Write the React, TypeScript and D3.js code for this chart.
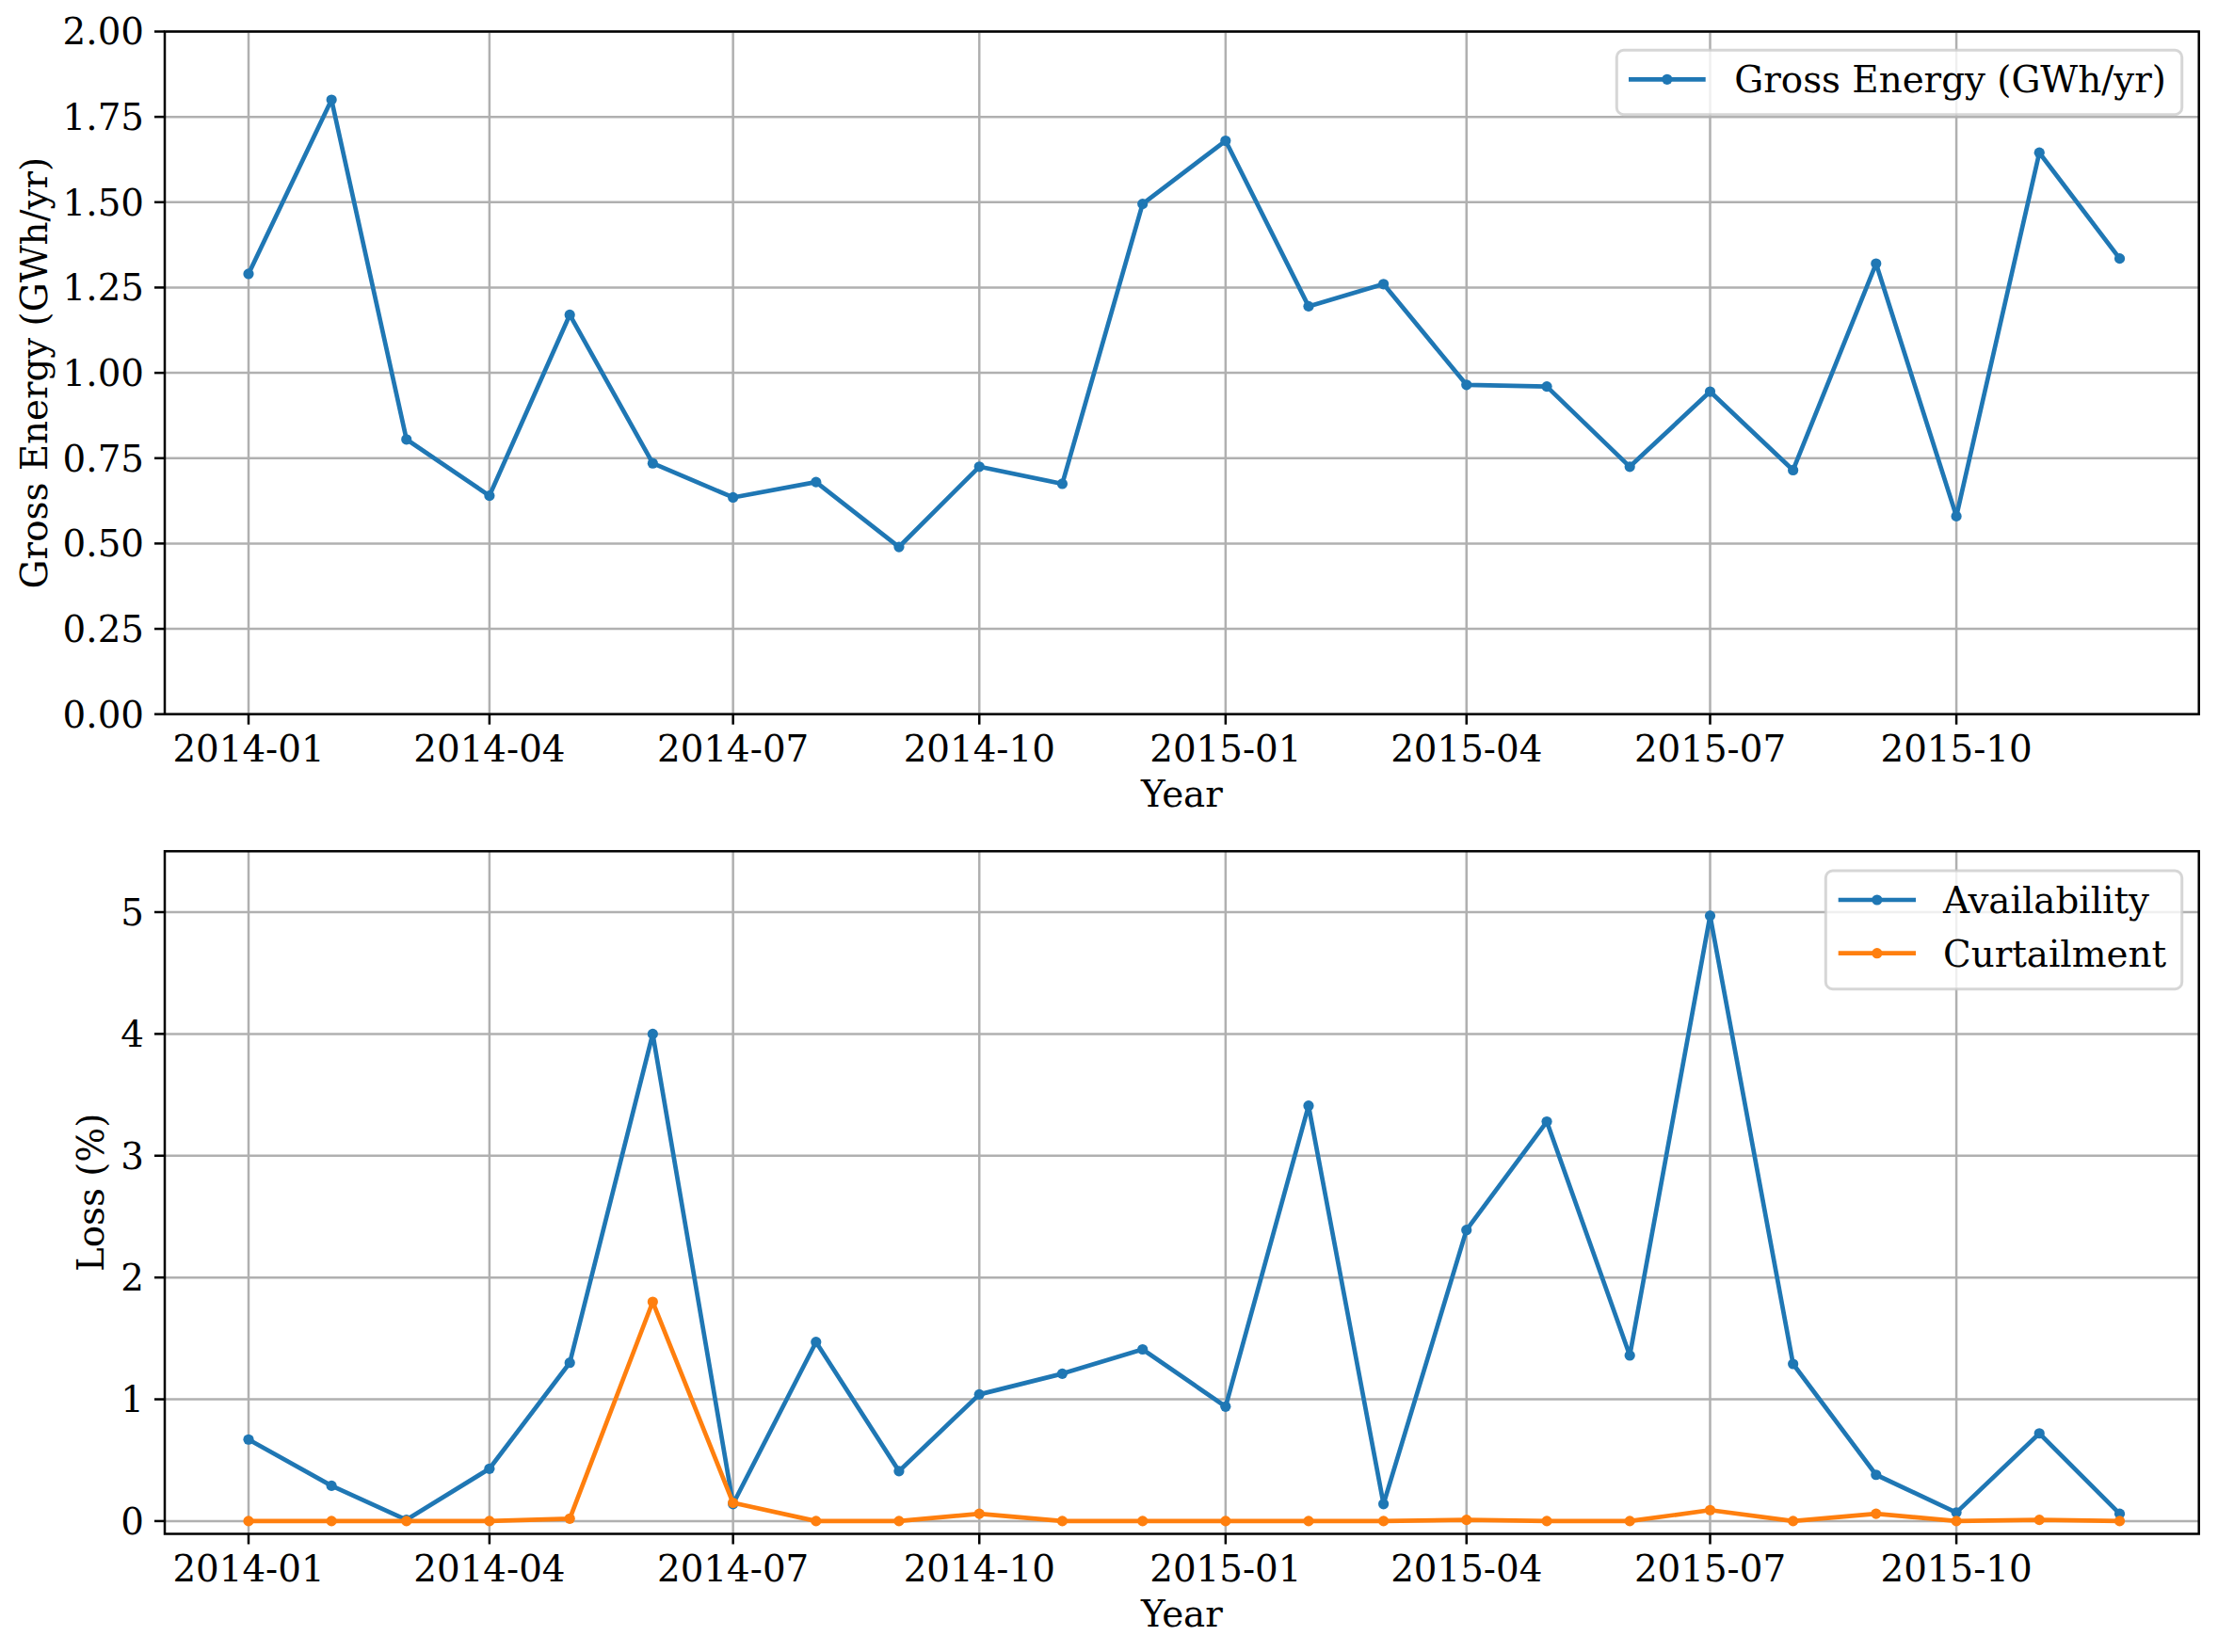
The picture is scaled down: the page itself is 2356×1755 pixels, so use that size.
import React from "react";
import * as d3 from "d3";

const months: string[] = [
  "2014-01", "2014-02", "2014-03", "2014-04", "2014-05", "2014-06",
  "2014-07", "2014-08", "2014-09", "2014-10", "2014-11", "2014-12",
  "2015-01", "2015-02", "2015-03", "2015-04", "2015-05", "2015-06",
  "2015-07", "2015-08", "2015-09", "2015-10", "2015-11", "2015-12",
];

const grossEnergy: number[] = [
  1.29, 1.80, 0.805, 0.64, 1.17, 0.735, 0.635, 0.68, 0.49, 0.725, 0.675, 1.495,
  1.68, 1.195, 1.26, 0.965, 0.96, 0.725, 0.945, 0.715, 1.32, 0.58, 1.645, 1.335,
];

const availability: number[] = [
  0.67, 0.29, 0.01, 0.43, 1.30, 4.00, 0.14, 1.47, 0.41, 1.04, 1.21, 1.41,
  0.94, 3.41, 0.14, 2.39, 3.28, 1.36, 4.97, 1.29, 0.38, 0.07, 0.72, 0.06,
];

const curtailment: number[] = [
  0, 0, 0, 0, 0.02, 1.80, 0.15, 0, 0, 0.06, 0, 0,
  0, 0, 0, 0.01, 0, 0, 0.09, 0, 0.06, 0, 0.01, 0,
];

const xTickLabels: string[] = [
  "2014-01", "2014-04", "2014-07", "2014-10", "2015-01", "2015-04", "2015-07", "2015-10",
];
const topYTicks: number[] = [0, 0.25, 0.5, 0.75, 1.0, 1.25, 1.5, 1.75, 2.0];
const bottomYTicks: number[] = [0, 1, 2, 3, 4, 5];

const W = 2356;
const H = 1755;
const FONT = "DejaVu Serif";
const FS = 38.8;
const BLUE = "#1f77b4";
const ORANGE = "#ff7f0e";
const GRID = "#b0b0b0";
const LW = 4.7;
const MR = 5.6;
const SPINE = 2.5;
const TICK = 11;

const parse = d3.timeParse("%Y-%m");
const dates = months.map((m) => parse(m) as Date);
const DAY = 86400000;
const xStart = new Date(dates[0].getTime() - 31.3 * DAY);
const xEnd = new Date(dates[dates.length - 1].getTime() + 29.6 * DAY);

const LEFT = 175;
const RIGHT = 2335.7;

const x = d3.scaleTime().domain([xStart, xEnd]).range([LEFT, RIGHT]);

type Series = { name: string; values: number[]; color: string };

function Panel(props: {
  top: number;
  bottom: number;
  yDomain: [number, number];
  yTicks: number[];
  yFormat: (v: number) => string;
  yLabel: string;
  yLabelX: number;
  series: Series[];
  legend: { left: number; top: number; right: number; bottom: number; handleX1: number; handleX2: number; textX: number; rowY: number[] };
}) {
  const { top, bottom, yDomain, yTicks, yFormat, yLabel, yLabelX, series, legend } = props;
  const y = d3.scaleLinear().domain(yDomain).range([bottom, top]);
  const xTicks = xTickLabels.map((t) => parse(t) as Date);
  const line = d3
    .line<number>()
    .x((_, i) => x(dates[i]))
    .y((v) => y(v));
  const fmtX = d3.timeFormat("%Y-%m");
  return (
    <g>
      {xTicks.map((t, i) => (
        <line key={"gx" + i} x1={x(t)} x2={x(t)} y1={top} y2={bottom} stroke={GRID} strokeWidth={2.5} />
      ))}
      {yTicks.map((v, i) => (
        <line key={"gy" + i} x1={LEFT} x2={RIGHT} y1={y(v)} y2={y(v)} stroke={GRID} strokeWidth={2.5} />
      ))}
      {series.map((s) => (
        <g key={s.name}>
          <path d={line(s.values) || ""} fill="none" stroke={s.color} strokeWidth={LW} strokeLinejoin="round" />
          {s.values.map((v, i) => (
            <circle key={i} cx={x(dates[i])} cy={y(v)} r={MR} fill={s.color} />
          ))}
        </g>
      ))}
      <rect x={LEFT} y={top} width={RIGHT - LEFT} height={bottom - top} fill="none" stroke="#000" strokeWidth={SPINE} />
      {xTicks.map((t, i) => (
        <g key={"xt" + i}>
          <line x1={x(t)} x2={x(t)} y1={bottom} y2={bottom + TICK} stroke="#000" strokeWidth={SPINE} />
          <text x={x(t)} y={bottom + 50} textAnchor="middle" fontFamily={FONT} fontSize={FS} fill="#000">
            {fmtX(t)}
          </text>
        </g>
      ))}
      {yTicks.map((v, i) => (
        <g key={"yt" + i}>
          <line x1={LEFT - TICK} x2={LEFT} y1={y(v)} y2={y(v)} stroke="#000" strokeWidth={SPINE} />
          <text x={LEFT - 22} y={y(v)} dy="0.36em" textAnchor="end" fontFamily={FONT} fontSize={FS} fill="#000">
            {yFormat(v)}
          </text>
        </g>
      ))}
      <text x={(LEFT + RIGHT) / 2} y={bottom + 98} textAnchor="middle" fontFamily={FONT} fontSize={FS} fill="#000">
        Year
      </text>
      <text
        transform={`translate(${yLabelX},${(top + bottom) / 2}) rotate(-90)`}
        textAnchor="middle"
        fontFamily={FONT}
        fontSize={FS}
        fill="#000"
      >
        {yLabel}
      </text>
      <rect
        x={legend.left}
        y={legend.top}
        width={legend.right - legend.left}
        height={legend.bottom - legend.top}
        rx={7.5}
        ry={7.5}
        fill="#ffffff"
        fillOpacity={0.8}
        stroke="#cccccc"
        strokeOpacity={0.8}
        strokeWidth={3}
      />
      {series.map((s, i) => (
        <g key={"lg" + i}>
          <line x1={legend.handleX1} x2={legend.handleX2} y1={legend.rowY[i]} y2={legend.rowY[i]} stroke={s.color} strokeWidth={LW} />
          <circle cx={(legend.handleX1 + legend.handleX2) / 2} cy={legend.rowY[i]} r={MR} fill={s.color} />
          <text x={legend.textX} y={legend.rowY[i]} dy="0.36em" fontFamily={FONT} fontSize={FS} fill="#000">
            {s.name}
          </text>
        </g>
      ))}
    </g>
  );
}

export default function App() {
  return (
    <svg
      width={W}
      height={H}
      viewBox={`0 0 ${W} ${H}`}
      style={{ position: "absolute", left: 0, top: 0, background: "#fff" }}
    >
      <rect x={0} y={0} width={W} height={H} fill="#fff" />
      <Panel
        top={33.5}
        bottom={758.7}
        yDomain={[0, 2]}
        yTicks={topYTicks}
        yFormat={(v) => v.toFixed(2)}
        yLabel="Gross Energy (GWh/yr)"
        yLabelX={50}
        series={[{ name: "Gross Energy (GWh/yr)", values: grossEnergy, color: BLUE }]}
        legend={{ left: 1717.3, top: 53.3, right: 2317.7, bottom: 121.7, handleX1: 1730, handleX2: 1811.7, textX: 1842.3, rowY: [84.3] }}
      />
      <Panel
        top={904.3}
        bottom={1629.5}
        yDomain={[-0.105, 5.5]}
        yTicks={bottomYTicks}
        yFormat={(v) => String(v)}
        yLabel="Loss (%)"
        yLabelX={110}
        series={[
          { name: "Availability", values: availability, color: BLUE },
          { name: "Curtailment", values: curtailment, color: ORANGE },
        ]}
        legend={{ left: 1939.3, top: 925, right: 2317.7, bottom: 1050.7, handleX1: 1952.7, handleX2: 2035, textX: 2064, rowY: [956, 1012.7] }}
      />
    </svg>
  );
}
